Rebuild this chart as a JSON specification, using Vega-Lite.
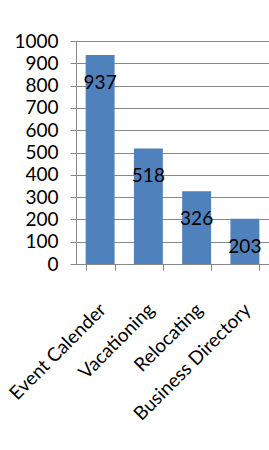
{
  "$schema": "https://vega.github.io/schema/vega-lite/v6.json",
  "width": 193,
  "height": 223,
  "autosize": {"type": "none"},
  "padding": {"left": 76, "top": 41, "right": 0, "bottom": 186},
  "background": "white",
  "config": {
    "font": "Lato",
    "view": {"stroke": null},
    "axis": {"domainColor": "#888888", "tickColor": "#888888", "gridColor": "#888888", "labelColor": "#000000", "labelFont": "Lato", "labelFontSize": 19}
  },
  "data": {"values": [
    {"category": "Event Calender", "value": 937},
    {"category": "Vacationing", "value": 518},
    {"category": "Relocating", "value": 326},
    {"category": "Business Directory", "value": 203}
  ]},
  "encoding": {
    "x": {"field": "category", "type": "nominal", "sort": null,
      "scale": {"paddingInner": 0.4, "paddingOuter": 0.2},
      "axis": {"title": null, "labelAngle": -45, "tickBand": "extent", "tickSize": 6, "labelPadding": 30, "labelOffset": -4, "grid": false}},
    "y": {"field": "value", "type": "quantitative",
      "scale": {"domain": [0, 1000], "nice": false},
      "axis": {"title": null, "format": "d", "values": [0,100,200,300,400,500,600,700,800,900,1000], "tickSize": 6, "labelPadding": 12, "grid": true}}
  },
  "layer": [
    {"mark": {"type": "bar", "color": "#4F81BD"}},
    {"mark": {"type": "text", "baseline": "top", "dy": 19, "fontSize": 19, "color": "#000000", "font": "Lato"},
      "encoding": {"text": {"field": "value", "type": "quantitative"}}}
  ]
}
